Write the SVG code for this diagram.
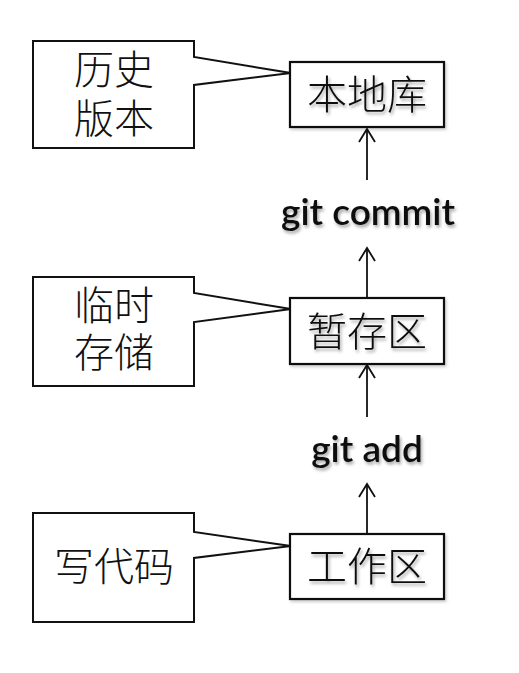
<svg xmlns="http://www.w3.org/2000/svg" width="519" height="673" viewBox="0 0 519 673">
  <defs>
    <style>
      .box { fill: #ffffff; stroke: #111111; stroke-width: 2.2; }
      .callout { fill: #ffffff; stroke: #111111; stroke-width: 2; stroke-linejoin: miter; }
      .cjk { font-family: "Noto Sans CJK SC", "Noto Sans", sans-serif; font-size: 40px; font-weight: 300; fill: #111111; text-anchor: middle; }
      .git { font-family: Lato, "Open Sans", "Liberation Sans", sans-serif; font-size: 37px; font-weight: 600; fill: #111111; text-anchor: middle; }
      .conn { stroke: #111111; stroke-width: 1.8; fill: none; }
    </style>
    <filter id="shadow" x="-20%" y="-20%" width="140%" height="160%">
      <feDropShadow dx="1.5" dy="2.5" stdDeviation="1.6" flood-color="#000000" flood-opacity="0.35"/>
    </filter>
    <filter id="boxshadow" x="-10%" y="-10%" width="125%" height="135%">
      <feDropShadow dx="1.5" dy="2" stdDeviation="1.5" flood-color="#000000" flood-opacity="0.2"/>
    </filter>
    <marker id="arrow" viewBox="-1 -9 16 18" markerWidth="16" markerHeight="18" refX="13" refY="0" orient="auto" markerUnits="userSpaceOnUse">
      <path d="M0,-8 L13,0 L0,8" fill="none" stroke="#111111" stroke-width="1.8"/>
    </marker>
  </defs>
  <rect width="519" height="673" fill="#ffffff"/>

  <g id="connectors">
    <line class="conn" x1="367" y1="534" x2="367" y2="484" marker-end="url(#arrow)"/>
    <line class="conn" x1="367" y1="417" x2="367" y2="365" marker-end="url(#arrow)"/>
    <line class="conn" x1="367" y1="298" x2="367" y2="248" marker-end="url(#arrow)"/>
    <line class="conn" x1="367" y1="180" x2="367" y2="129" marker-end="url(#arrow)"/>
  </g>

  <g id="callout-history">
    <path class="callout" d="M33,41 H194 V57 L291,73 L194,85 V148 H33 Z"/>
    <text class="cjk"><tspan x="114" y="84">历史</tspan><tspan x="114" y="133">版本</tspan></text>
  </g>
  <g id="callout-temp">
    <path class="callout" d="M33,277 H194 V293 L291,309 L194,322 V386 H33 Z"/>
    <text class="cjk"><tspan x="114" y="320">临时</tspan><tspan x="114" y="367">存储</tspan></text>
  </g>
  <g id="callout-code">
    <path class="callout" d="M33,513 H194 V532 L291,546 L194,558 V622 H33 Z"/>
    <text class="cjk" x="114" y="581">写代码</text>
  </g>

  <g id="node-local-repo">
    <rect class="box" x="290" y="62" width="154" height="65" filter="url(#boxshadow)"/>
    <text class="cjk" x="367" y="109" filter="url(#shadow)">本地库</text>
  </g>
  <g id="node-staging">
    <rect class="box" x="290" y="298" width="154" height="66" filter="url(#boxshadow)"/>
    <text class="cjk" x="367" y="346" filter="url(#shadow)">暂存区</text>
  </g>
  <g id="node-workspace">
    <rect class="box" x="290" y="534" width="154" height="65" filter="url(#boxshadow)"/>
    <text class="cjk" x="367" y="581" filter="url(#shadow)">工作区</text>
  </g>

  <g id="label-commit">
    <text class="git" x="368" y="225" filter="url(#shadow)">git commit</text>
  </g>
  <g id="label-add">
    <text class="git" x="367" y="462" filter="url(#shadow)">git add</text>
  </g>
</svg>
